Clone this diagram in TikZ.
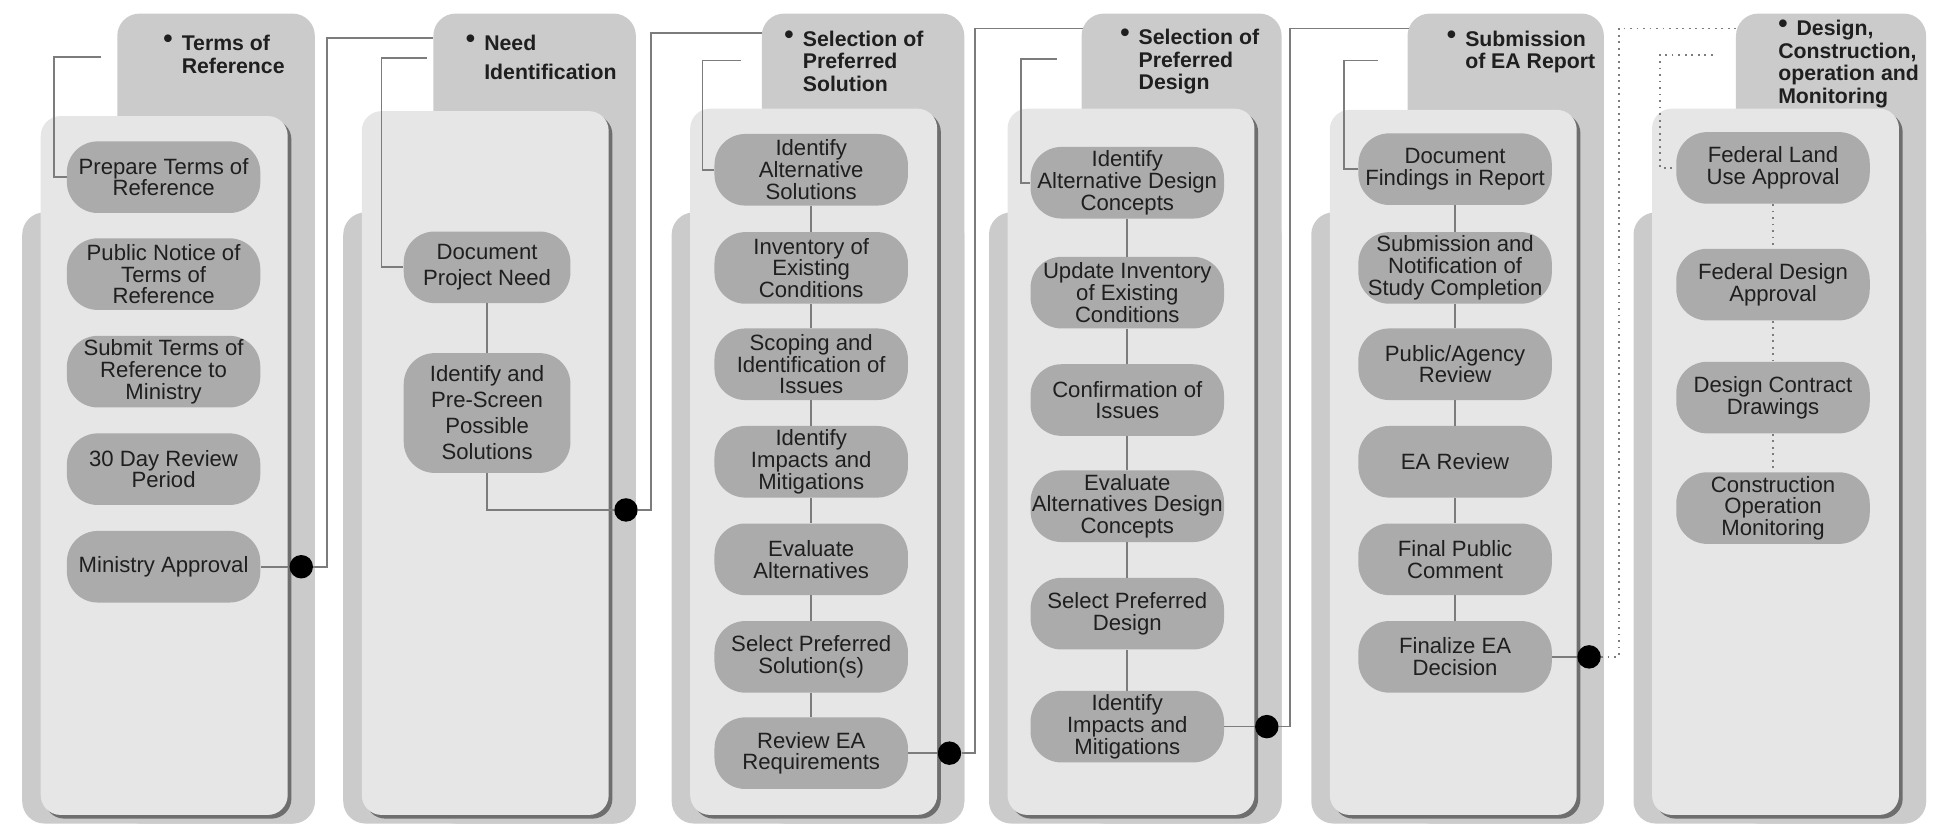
\documentclass[tikz,border=0pt]{standalone}
\usepackage{fontspec}
\setmainfont{Liberation Sans}
\usetikzlibrary{positioning,calc}

\definecolor{tabgray}{HTML}{CBCBCB}
\definecolor{panelgray}{HTML}{E6E6E6}
\definecolor{pillgray}{HTML}{ABABAB}
\definecolor{shadegray}{HTML}{6E6E6E}
\definecolor{linkgray}{HTML}{7C7C7C}
\newcommand{\headbul}{\raisebox{.3ex}{\scalebox{1.25}{\textbullet}}}
\newcommand{\headdot}{\llap{\headbul\hspace{2.2mm}}}

\begin{document}
\begin{tikzpicture}[
  x=0.3mm, y=-0.3mm,
  every node/.style={font=\fontsize{15.3}{15}\selectfont, text=black!88},
  pill/.style={fill=pillgray, rounded corners=7.5mm, align=center, inner sep=0pt,
               minimum width=47mm, minimum height=17.4mm},
  needpill/.style={pill, minimum width=40.5mm, font=\fontsize{15.3}{18}\selectfont},
  head/.style={anchor=north west, align=left, inner sep=0pt,
               font=\fontsize{14.7}{15.5}\selectfont\bfseries},
  link/.style={draw=linkgray, line width=1.2pt},
  dlink/.style={link, dash pattern=on 1.3pt off 3.2pt},
  hub/.style={circle, fill=black, inner sep=0pt, minimum size=5.7mm}
]
\useasboundingbox (0,0) rectangle (1568,668);
% ----- column backgrounds: tab + body, inner panel with shadow -----
\foreach \L/\K/\T in {18/95/94, 278/351/90, 544/617/88, 801/876/88, 1062/1140/89, 1323/1406/88}{
  \fill[tabgray, rounded corners=5.4mm] (\K,11) rectangle (\L+237,667);
  \fill[tabgray, rounded corners=5.4mm] (\L,172) rectangle (\L+237,667);
  \fill[shadegray, rounded corners=4.8mm] (\L+18,\T+3) rectangle (\L+218,663);
  \fill[panelgray, rounded corners=4.8mm] (\L+15,\T) rectangle (\L+215,660);
}
% ----- headers (first baseline 12 units below the anchor) -----
\node[head] (hT) at (147,28)   {\headdot Terms of\\Reference};
\node[head, font=\fontsize{14.7}{19.6}\selectfont\bfseries] (hN) at (392,28) {\headdot Need\\Identification};
\node[head] (hS) at (650,24.5) {\headdot Selection of\\Preferred\\Solution};
\node[head] (hD) at (922,23)   {\headdot Selection of\\Preferred\\Design};
\node[head] (hR) at (1186.5,24.5) {\headdot Submission\\of EA Report};
\node[head] (hM) at (1440,16)  {\headbul\hspace{2.2mm}Design,\\Construction,\\operation and\\Monitoring};
% ----- Terms of Reference -----
\node[pill] (t1) at (132.5,143.5) {Prepare Terms of\\Reference};
\node[pill] (t2) at (132.5,222)   {Public Notice of\\Terms of\\Reference};
\node[pill] (t3) at (132.5,301)   {Submit Terms of\\Reference to\\Ministry};
\node[pill] (t4) at (132.5,380)   {30 Day Review\\Period};
\node[pill] (t5) at (132.5,459)   {Ministry Approval};
% ----- Need Identification -----
\node[needpill] (n1) at (394.5,216.5) {Document\\Project Need};
\node[needpill, minimum height=29.1mm] (n2) at (394.5,334.5) {Identify and\\Pre-Screen\\Possible\\Solutions};
% ----- Selection of Preferred Solution -----
\node[pill] (s1) at (657,137.5) {Identify\\Alternative\\Solutions};
\node[pill] (s2) at (657,217)   {Inventory of\\Existing\\Conditions};
\node[pill] (s3) at (657,295)   {Scoping and\\Identification of\\Issues};
\node[pill] (s4) at (657,374)   {Identify\\Impacts and\\Mitigations};
\node[pill] (s5) at (657,453)   {Evaluate\\Alternatives};
\node[pill] (s6) at (657,532)   {Select Preferred\\Solution(s)};
\node[pill] (s7) at (657,610)   {Review EA\\Requirements};
% ----- Selection of Preferred Design -----
\node[pill] (d1) at (913,148)   {Identify\\Alternative Design\\Concepts};
\node[pill] (d2) at (913,237)   {Update Inventory\\of Existing\\Conditions};
\node[pill] (d3) at (913,324)   {Confirmation of\\Issues};
\node[pill] (d4) at (913,410)   {Evaluate\\Alternatives Design\\Concepts};
\node[pill] (d5) at (913,497)   {Select Preferred\\Design};
\node[pill] (d6) at (913,588.5) {Identify\\Impacts and\\Mitigations};
% ----- Submission of EA Report -----
\node[pill] (r1) at (1178.5,137) {Document\\Findings in Report};
\node[pill] (r2) at (1178.5,217) {Submission and\\Notification of\\Study Completion};
\node[pill] (r3) at (1178.5,295) {Public/Agency\\Review};
\node[pill] (r4) at (1178.5,374) {EA Review};
\node[pill] (r5) at (1178.5,453) {Final Public\\Comment};
\node[pill] (r6) at (1178.5,532) {Finalize EA\\Decision};
% ----- Design, Construction, operation and Monitoring -----
\node[pill] (m1) at (1436,136)   {Federal Land\\Use Approval};
\node[pill] (m2) at (1436,230.5) {Federal Design\\Approval};
\node[pill] (m3) at (1436,322)   {Design Contract\\Drawings};
\node[pill] (m4) at (1436,411.5) {Construction\\Operation\\Monitoring};
% ----- steps inside a column -----
\foreach \a/\b in {n1/n2, s1/s2, s2/s3, s3/s4, s4/s5, s5/s6, s6/s7,
                   d1/d2, d2/d3, d3/d4, d4/d5, d5/d6, r1/r2, r2/r3, r3/r4, r4/r5, r5/r6}{\draw[link] (\a) -- (\b);}
\foreach \a/\b in {m1/m2, m2/m3, m3/m4}{\draw[dlink] (\a) -- (\b);}
% ----- entry from the tab to the first step -----
\coordinate (e1) at (82,46);
\coordinate (e2) at (346,47);
\coordinate (e3) at (600,49);
\coordinate (e4) at (856,48);
\coordinate (e5) at (1116,49);
\coordinate (e6) at (1387,44.5);
\draw[link]  (e1) -- ++(-38,0) |- (t1.west);
\draw[link]  (e2) -- ++(-37,0) |- (n1.west);
\draw[link]  (e3) -- ++(-31,0) |- (s1.west);
\draw[link]  (e4) -- ++(-29,0) |- (d1.west);
\draw[link]  (e5) -- ++(-27.5,0) |- (r1.west);
\draw[dlink] (e6) -- ++(-42.5,0) |- (m1.west);
% ----- hand-over to the next phase -----
\node[hub] (j1) at (244,459) {};
\node[hub] (j2) at (507,413) {};
\node[hub] (j3) at (769,610) {};
\node[hub] (j4) at (1026,588.5) {};
\node[hub] (j5) at (1287,532) {};
\coordinate (k2) at (351,31);
\coordinate (k3) at (617,27);
\coordinate (k4) at (877,23);
\coordinate (k5) at (1141,23);
\coordinate (k6) at (1407,23);
\draw[link] (t5) -- (j1);
\draw[link] (n2.south) |- (j2);
\draw[link] (s7) -- (j3);
\draw[link] (d6) -- (j4);
\draw[link] (r6) -- (j5);
\draw[link]  (j1) -- ++(21,0) |- (k2);
\draw[link]  (j2) -- ++(20,0) |- (k3);
\draw[link]  (j3) -- ++(20.5,0) |- (k4);
\draw[link]  (j4) -- ++(19,0) |- (k5);
\draw[dlink] (j5) -- ++(24,0) |- (k6);
\end{tikzpicture}
\end{document}
